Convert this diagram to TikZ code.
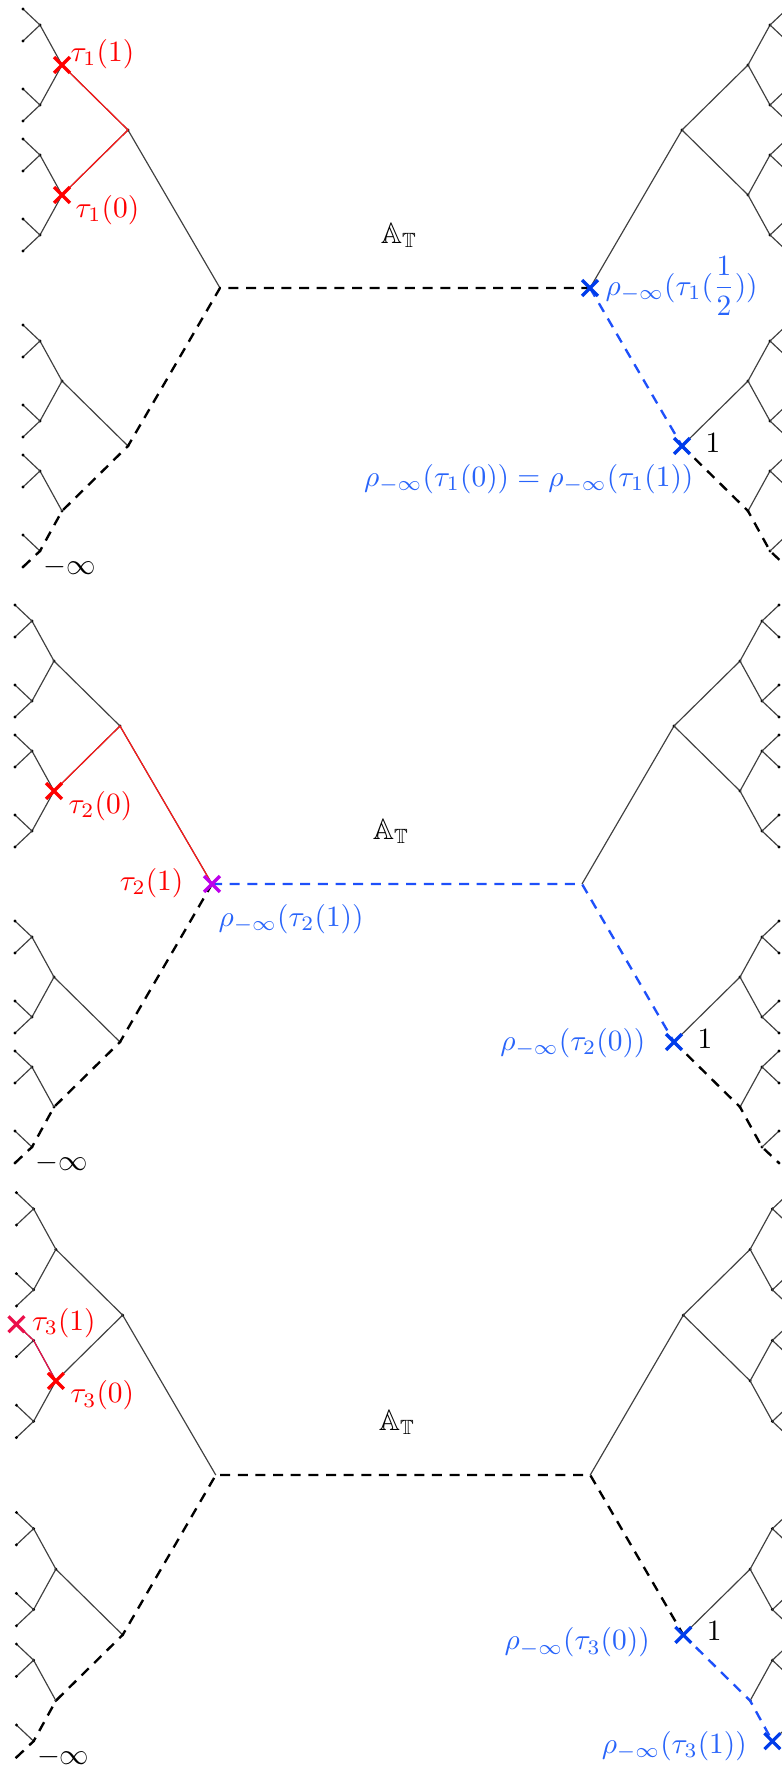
\documentclass[tikz,border=0pt]{standalone}
\usepackage{amsmath,amssymb}
\usetikzlibrary{shapes.misc}

\definecolor{markblue}{RGB}{0,60,235}
\definecolor{labelblue}{RGB}{40,100,250}
\definecolor{axisblue}{RGB}{30,80,250}
\definecolor{markpurple}{RGB}{190,0,235}
\definecolor{crimson}{RGB}{235,15,75}

\begin{document}
\begin{tikzpicture}[x=0.34pt,y=-0.34pt,
  edge/.style={draw=black!75,line width=.4pt},
  axis/.style={draw=black,line width=.8pt,dash pattern=on 3.4pt off 2.6pt},
  bluaxis/.style={axis,draw=axisblue},
  redpath/.style={draw=red!90,line width=.4pt},
  xmark/.style={cross out,draw=#1,line width=1.1pt,inner sep=0pt,minimum size=4.3pt},
  tlabel/.style={text=red,inner sep=0pt,anchor=base west},
  rlabel/.style={text=labelblue,inner sep=0pt},
  plain/.style={inner sep=0pt}
]
\useasboundingbox (0,0) rectangle (782,1766);
\foreach \p/\cx/\cy/\k in {1/405/288/1,2/397/884/1,3/403/1475/1.012}{
  \coordinate (\p C) at (\cx,\cy);
  \foreach \side/\s in {L/-1,R/1}{
    \coordinate (\p\side) at ({\cx+\s*185*\k},\cy);
    \foreach \a in {0,1}{
      \coordinate (\p\side\a) at ({\cx+\s*277*\k},{\cy+(2*\a-1)*158*\k});
      \ifnum\a=0 \draw[edge] (\p\side) -- (\p\side\a); \fi
      \fill (\p\side\a) circle (1.6);
      \foreach \b in {0,1}{
        \coordinate (\p\side\a\b) at ({\cx+\s*343*\k},{\cy+((2*\a-1)*158+(2*\b-1)*65)*\k});
        \ifnum\numexpr\a*\b\relax=0 \draw[edge] (\p\side\a) -- (\p\side\a\b); \fi
        \fill (\p\side\a\b) circle (1.6);
        \foreach \c in {0,1}{
          \coordinate (\p\side\a\b\c) at ({\cx+\s*365*\k},{\cy+((2*\a-1)*158+(2*\b-1)*65+(2*\c-1)*40)*\k});
          \ifnum\numexpr\a*\b*\c\relax=0 \draw[edge] (\p\side\a\b) -- (\p\side\a\b\c); \fi
          \fill (\p\side\a\b\c) circle (1.6);
          \foreach \d in {0,1}{
            \coordinate (\p\side\a\b\c\d) at ({\cx+\s*382*\k},{\cy+((2*\a-1)*158+(2*\b-1)*65+(2*\c-1)*40+(2*\d-1)*16)*\k});
            \ifnum\numexpr\a*\b*\c*\d\relax=0 \draw[edge] (\p\side\a\b\c) -- (\p\side\a\b\c\d); \fi
            \fill (\p\side\a\b\c\d) circle (1.6);
          }
        }
      }
    }
  }
  \node[plain,anchor=base] (\p AT) at ([shift={(-6,-45)}]\p C) {$\mathbb{A}_{\mathbb{T}}$};
  \node[plain,anchor=base west] (\p minf) at ([shift={(20,7)}]\p L1111) {$-\infty$};
  \node[plain,anchor=base west] (\p one) at ([shift={(23,6)}]\p R1) {$1$};
}

\draw[axis] (1L1111) -- (1L111) -- (1L11) -- (1L1) -- (1L) -- (1R);
\draw[bluaxis] (1R) -- (1R1);
\draw[axis] (1R1) -- (1R11) -- (1R111) -- (1R1111);
\draw[redpath] (1L00) -- (1L0) -- (1L01);
\node[xmark=red] (x11) at (1L00) {};
\node[xmark=red] (x10) at (1L01) {};
\node[xmark=markblue] (x1h) at (1R) {};
\node[xmark=markblue] (x1r) at (1R1) {};
\node[tlabel] (t11) at ([shift={(8,-4)}]1L00) {$\tau_1(1)$};
\node[tlabel] (t10) at ([shift={(13,22)}]1L01) {$\tau_1(0)$};
\node[rlabel,anchor=base west] (r1h) at ([shift={(15,7)}]1R) {$\rho_{-\infty}(\tau_1(\dfrac{1}{2}))$};
\node[rlabel,anchor=base east] (r1e) at ([shift={(12,40)}]1R1) {$\rho_{-\infty}(\tau_1(0))=\rho_{-\infty}(\tau_1(1))$};

\draw[axis] (2L1111) -- (2L111) -- (2L11) -- (2L1) -- (2L);
\draw[bluaxis] (2L) -- (2R) -- (2R1);
\draw[axis] (2R1) -- (2R11) -- (2R111) -- (2R1111);
\draw[redpath] (2L01) -- (2L0) -- (2L);
\node[xmark=red] (x20) at (2L01) {};
\node[xmark=markpurple] (x21) at (2L) {};
\node[xmark=markblue] (x2r) at (2R1) {};
\node[tlabel] (t20) at ([shift={(14,22)}]2L01) {$\tau_2(0)$};
\node[tlabel,anchor=base east] (t21) at ([shift={(-28,6)}]2L) {$\tau_2(1)$};
\node[rlabel,anchor=base west] (r21) at ([shift={(6,42)}]2L) {$\rho_{-\infty}(\tau_2(1))$};
\node[rlabel,anchor=base east] (r20) at ([shift={(-28,8)}]2R1) {$\rho_{-\infty}(\tau_2(0))$};

\draw[axis] (3L1111) -- (3L111) -- (3L11) -- (3L1) -- (3L) -- (3R) -- (3R1);
\draw[bluaxis] (3R1) -- (3R11) -- (3R111);
\draw[axis] (3R111) -- (3R1111);
\draw[redpath,draw=crimson] (3L0100) -- (3L010) -- (3L01);
\node[xmark=crimson] (x31) at (3L0100) {};
\node[xmark=red] (x30) at (3L01) {};
\node[xmark=markblue] (x3r) at (3R1) {};
\node[xmark=markblue] (x3s) at (3R111) {};
\node[tlabel] (t31) at ([shift={(15,6)}]3L0100) {$\tau_3(1)$};
\node[tlabel] (t30) at ([shift={(14,22)}]3L01) {$\tau_3(0)$};
\node[rlabel,anchor=base east] (r30) at ([shift={(-33,15)}]3R1) {$\rho_{-\infty}(\tau_3(0))$};
\node[rlabel,anchor=base east] (r31) at ([shift={(-25,12)}]3R111) {$\rho_{-\infty}(\tau_3(1))$};
\end{tikzpicture}
\end{document}
